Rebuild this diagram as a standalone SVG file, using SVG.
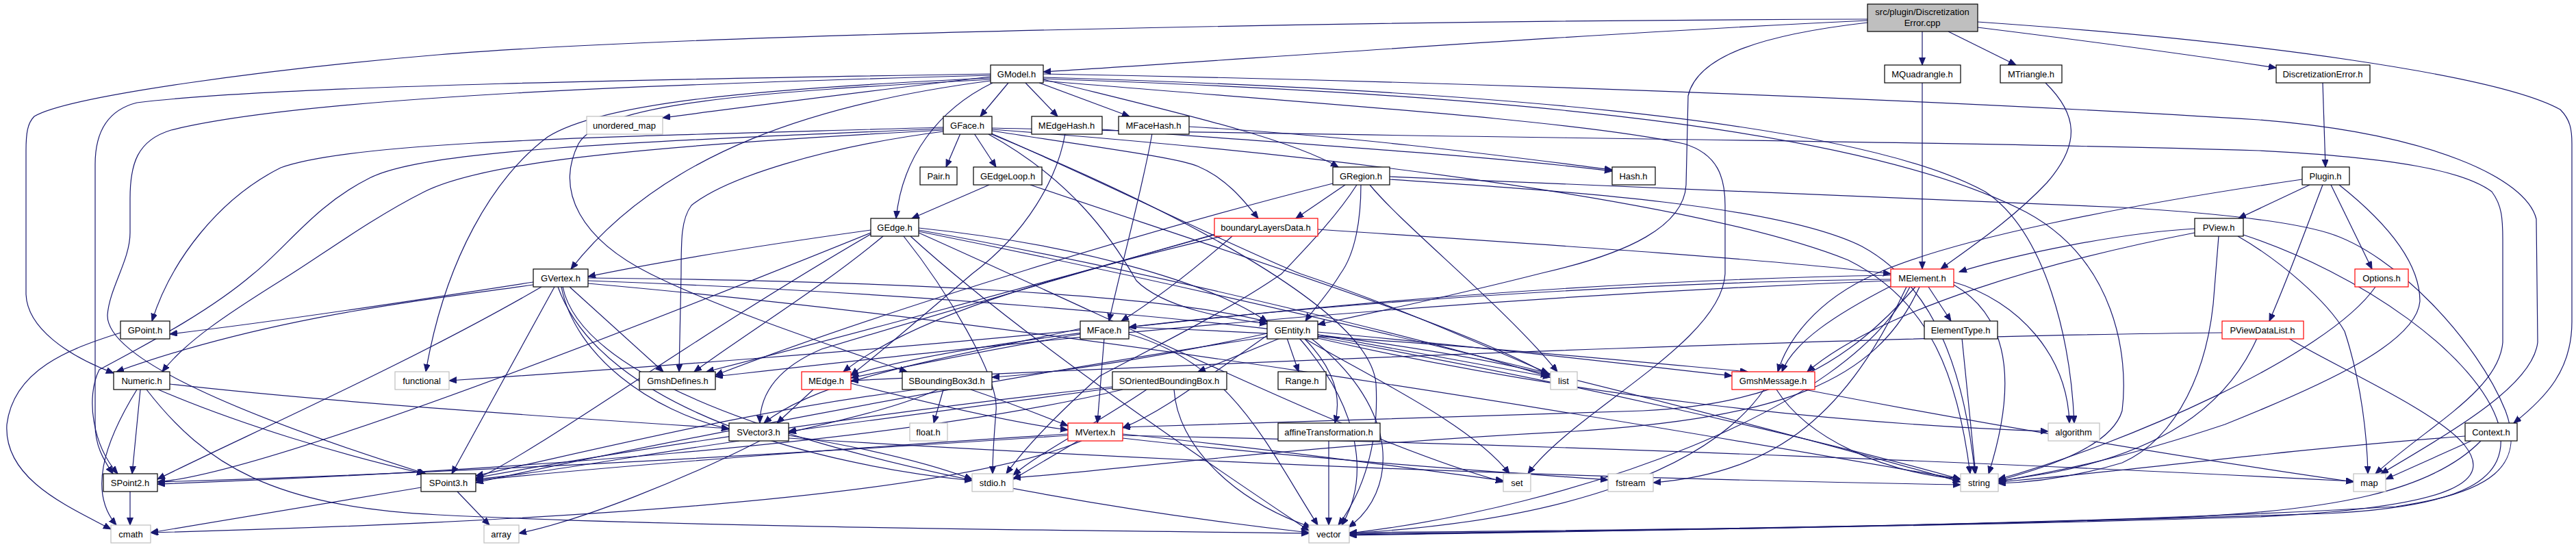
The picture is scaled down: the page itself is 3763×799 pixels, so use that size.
<svg xmlns="http://www.w3.org/2000/svg" width="3763" height="799" viewBox="0 0 3763 799">
<style>
.e{fill:none;stroke:#191970;stroke-width:1.2;marker-end:url(#a)}
rect{fill:#fff;stroke:#000;stroke-width:1.2}
.r rect{stroke:#ff0000}
.g rect{stroke:#bfbfbf}
text{font-family:"Liberation Sans",Arial,Helvetica,sans-serif;font-size:13px;text-anchor:middle;fill:#000}
</style>
<defs>
<marker id="a" markerWidth="12" markerHeight="10" refX="11" refY="4.5" orient="auto" markerUnits="userSpaceOnUse"><path d="M0,0 L11,4.5 L0,9 z" fill="#191970" stroke="#191970" stroke-width="1"/></marker>
</defs>
<rect x="0" y="0" width="3763" height="799" style="fill:#fff;stroke:none"/>
<g id="edges">
<path class="e" d="M2728,30 C2300,50 1800,88 1524,105"/>
<path class="e" d="M2808,46 L2808,95"/>
<path class="e" d="M2846,46 L2945,95"/>
<path class="e" d="M2889,40 C3050,60 3200,80 3325,99"/>
<path class="e" d="M2728,28 C2000,30 1000,50 640,80 C400,100 100,140 50,170 C40,180 38,195 38,220 L38,430 C40,480 100,520 166,545"/>
<path class="e" d="M2889,32 C3300,60 3650,110 3740,160 C3755,175 3757,190 3757,210 L3757,470 C3757,540 3720,580 3672,618"/>
<path class="e" d="M2728,33 C2580,50 2480,80 2466,140 L2463,270 C2460,330 2380,370 2252,399 C2150,425 2000,458 1925,474"/>
<path class="e" d="M1473,121 L1432,170"/>
<path class="e" d="M1498,121 L1545,170"/>
<path class="e" d="M1518,121 L1650,170"/>
<path class="e" d="M1524,116 C1700,160 1880,200 1955,244"/>
<path class="e" d="M1450,121 C1370,160 1318,230 1309,319"/>
<path class="e" d="M1447,118 C1200,150 970,220 834,393"/>
<path class="e" d="M1447,112 C1250,135 1100,155 968,172"/>
<path class="e" d="M1447,108 C1000,115 400,125 200,150 C160,160 139,190 139,240 L139,620 C139,650 150,670 165,692"/>
<path class="e" d="M1447,110 C1000,122 450,140 250,190 C200,205 190,240 190,290 L190,340 C190,380 160,420 157,460 C155,520 330,600 622,692"/>
<path class="e" d="M1447,114 C1100,130 880,150 800,200 C720,260 650,380 622,543"/>
<path class="e" d="M1447,116 C1100,135 880,150 845,210 C810,280 850,350 950,400 C1050,450 1200,500 1325,543"/>
<path class="e" d="M1524,108 C2200,120 2900,150 3300,175 C3550,195 3690,260 3705,320 L3707,500 C3700,560 3600,620 3478,692"/>
<path class="e" d="M1524,113 C2100,130 2700,170 2900,280 C2990,340 3025,500 3030,618"/>
<path class="e" d="M1524,115 C2100,135 2700,175 2960,310 C3090,380 3110,520 3100,600 C3085,650 3000,680 2919,702"/>
<path class="e" d="M1524,118 C1900,150 2300,175 2460,210 C2510,225 2520,260 2520,300 L2520,400 C2515,500 2300,600 2232,692"/>
<path class="e" d="M1403,195 L1382,244"/>
<path class="e" d="M1423,195 L1455,244"/>
<path class="e" d="M1449,191 C1600,215 1720,230 1750,243 C1790,260 1815,290 1838,319"/>
<path class="e" d="M1444,196 C1560,260 1620,340 1660,410 C1700,450 1790,465 1851,473"/>
<path class="e" d="M1446,194 C1600,260 1800,360 1900,400 C2050,450 2200,520 2262,545"/>
<path class="e" d="M1378,186 C900,200 520,205 410,245 C320,290 250,380 222,469"/>
<path class="e" d="M1378,188 C900,208 620,220 540,260 C460,300 420,360 370,400 C300,460 200,510 145,540 C125,580 135,650 172,692"/>
<path class="e" d="M1378,190 C900,215 700,240 620,280 C540,320 460,380 410,410 C330,460 270,500 237,543"/>
<path class="e" d="M1378,192 C1200,215 1060,260 1010,300 C995,320 995,350 995,400 L992,543"/>
<path class="e" d="M1449,187 C2000,200 2800,205 3300,220 C3500,230 3600,250 3640,280 C3655,300 3656,320 3656,350 L3656,500 C3650,570 3550,620 3470,692"/>
<path class="e" d="M1449,189 C2000,230 2500,300 2700,380 C2820,440 2860,550 2878,692"/>
<path class="e" d="M1446,195 C1700,300 2000,450 2010,560 C2015,650 1990,720 1955,767"/>
<path class="e" d="M1445,270 L1332,319"/>
<path class="e" d="M1505,270 C1800,370 2150,480 2262,548"/>
<path class="e" d="M1965,270 L1893,319"/>
<path class="e" d="M1988,270 C1988,320 1980,370 1958,400 C1940,430 1920,450 1907,469"/>
<path class="e" d="M2001,270 C2050,330 2200,450 2275,543"/>
<path class="e" d="M1982,270 C1950,320 1900,370 1872,400 C1800,450 1700,500 1607,549 C1550,600 1500,650 1470,692"/>
<path class="e" d="M2030,262 C2300,280 2600,300 2720,360 C2830,420 2870,550 2885,692"/>
<path class="e" d="M2030,258 C2300,270 2700,285 3100,303 C3250,312 3350,325 3400,340 C3500,370 3620,500 3660,600 C3690,680 3640,720 3500,740 C3000,770 2300,775 1971,778"/>
<path class="e" d="M1947,268 C1700,330 1300,450 1045,548"/>
<path class="e" d="M1610,189 C1900,210 2200,230 2355,250"/>
<path class="e" d="M1556,195 C1545,260 1500,340 1420,400 C1350,460 1280,520 1243,548"/>
<path class="e" d="M1737,185 C2000,200 2250,235 2355,248"/>
<path class="e" d="M1683,195 C1670,270 1640,380 1620,469"/>
<path class="e" d="M1800,345 C1760,380 1700,430 1638,469"/>
<path class="e" d="M1785,345 C1600,390 1350,450 1232,543"/>
<path class="e" d="M1775,342 C1500,420 1300,480 1200,510 C1130,540 1110,580 1110,618"/>
<path class="e" d="M1925,335 C2300,360 2600,380 2762,400"/>
<path class="e" d="M1774,343 C1500,420 1200,500 1032,543"/>
<path class="e" d="M1272,336 C1100,360 950,385 859,404"/>
<path class="e" d="M1290,345 C1200,420 1100,480 1014,543"/>
<path class="e" d="M1320,345 C1380,420 1460,550 1455,600 C1452,640 1450,660 1450,692"/>
<path class="e" d="M1342,333 C1600,360 1780,420 1851,470"/>
<path class="e" d="M1272,340 C1000,450 400,690 230,704"/>
<path class="e" d="M1272,342 C1000,500 800,650 695,700"/>
<path class="e" d="M1342,336 C1700,400 2100,500 2262,550"/>
<path class="e" d="M1342,338 C1900,450 2500,600 2864,704"/>
<path class="e" d="M1330,345 C1500,500 1800,700 1912,775"/>
<path class="e" d="M1342,340 C1700,500 2000,650 2196,704"/>
<path class="e" d="M779,412 C600,440 400,470 248,488"/>
<path class="e" d="M779,416 C640,436 400,460 170,543"/>
<path class="e" d="M791,419 C600,530 350,640 230,700"/>
<path class="e" d="M810,419 L660,692"/>
<path class="e" d="M832,419 L969,543"/>
<path class="e" d="M820,419 C840,520 950,600 1065,627"/>
<path class="e" d="M859,406 C1300,410 1700,430 1851,470"/>
<path class="e" d="M822,419 C860,600 1400,720 1912,778"/>
<path class="e" d="M859,410 C1400,430 2000,480 2265,548"/>
<path class="e" d="M859,414 C1600,480 2400,620 2864,700"/>
<path class="e" d="M815,419 C880,600 1200,680 1420,702"/>
<path class="e" d="M1880,494 L1897,543"/>
<path class="e" d="M1905,494 C1950,540 1960,580 1950,618"/>
<path class="e" d="M1870,494 L1750,543"/>
<path class="e" d="M1851,487 C1700,520 1550,545 1449,551"/>
<path class="e" d="M1925,489 L2265,551"/>
<path class="e" d="M1905,494 C2000,550 2150,620 2205,692"/>
<path class="e" d="M1898,494 C1990,600 2000,700 1960,767"/>
<path class="e" d="M1915,494 C2050,600 2040,720 1970,770"/>
<path class="e" d="M1925,492 C2300,560 2650,640 2864,700"/>
<path class="e" d="M1925,494 C2300,580 2700,620 2992,630"/>
<path class="e" d="M1925,485 C2200,510 2400,535 2530,549"/>
<path class="e" d="M1851,490 C1750,560 1700,600 1640,625"/>
<path class="e" d="M1851,492 C1400,560 900,660 695,705"/>
<path class="e" d="M1613,494 L1603,618"/>
<path class="e" d="M1578,482 C1300,510 900,540 656,556"/>
<path class="e" d="M1578,480 C1400,520 1200,550 1116,618"/>
<path class="e" d="M1578,488 C1450,510 1350,530 1243,552"/>
<path class="e" d="M1649,488 C1800,530 1850,650 1925,767"/>
<path class="e" d="M1649,478 C2000,490 2300,520 2553,543"/>
<path class="e" d="M1188,569 L1135,618"/>
<path class="e" d="M1243,560 C1400,600 1500,620 1560,628"/>
<path class="e" d="M1575,644 L1480,700"/>
<path class="e" d="M1560,636 C1200,660 700,690 230,704"/>
<path class="e" d="M1560,634 C1300,650 900,680 695,702"/>
<path class="e" d="M1640,634 C1900,660 2100,690 2196,702"/>
<path class="e" d="M1640,636 C2300,650 3000,680 3438,703"/>
<path class="e" d="M1580,644 C1400,720 900,760 220,778"/>
<path class="e" d="M1640,640 C1900,670 2200,690 2349,701"/>
<path class="e" d="M1378,569 L1364,618"/>
<path class="e" d="M1338,569 C1100,600 900,650 695,695"/>
<path class="e" d="M1370,569 C1300,600 1200,620 1152,632"/>
<path class="e" d="M1418,569 C1480,590 1530,610 1560,622"/>
<path class="e" d="M1625,567 C1450,590 1300,610 1152,630"/>
<path class="e" d="M1675,569 C1600,620 1520,660 1480,694"/>
<path class="e" d="M1625,565 C1300,600 900,660 695,698"/>
<path class="e" d="M1715,569 C1720,650 1800,730 1915,770"/>
<path class="e" d="M1640,569 C1300,650 700,690 230,707"/>
<path class="e" d="M1080,644 C900,670 800,690 695,700"/>
<path class="e" d="M1110,644 C1000,700 850,760 758,779"/>
<path class="e" d="M1152,636 C1300,660 1380,685 1420,700"/>
<path class="e" d="M1152,640 C1800,680 2400,700 2864,708"/>
<path class="e" d="M615,712 L220,778"/>
<path class="e" d="M668,718 L715,767"/>
<path class="e" d="M190,718 L190,767"/>
<path class="e" d="M176,486 C100,510 20,540 10,620 C5,700 100,740 162,773"/>
<path class="e" d="M205,569 L193,692"/>
<path class="e" d="M200,569 C150,650 130,720 170,767"/>
<path class="e" d="M248,561 C500,590 900,615 1065,626"/>
<path class="e" d="M231,569 C350,620 500,665 620,692"/>
<path class="e" d="M214,569 C300,680 400,740 640,752 C1000,770 1600,775 1912,779"/>
<path class="e" d="M1941,644 L1941,767"/>
<path class="e" d="M2817,419 L2850,469"/>
<path class="e" d="M2762,418 C2680,460 2620,500 2603,543"/>
<path class="e" d="M2854,412 C2950,440 3020,520 3023,618"/>
<path class="e" d="M2854,416 C2930,460 2950,550 2905,692"/>
<path class="e" d="M2798,419 C2700,530 2600,590 2400,600 C2100,610 1800,620 1640,624"/>
<path class="e" d="M2804,419 C2740,560 2600,610 2300,630 C1900,650 1600,690 1480,698"/>
<path class="e" d="M2762,408 C2300,412 1500,470 1243,548"/>
<path class="e" d="M2762,402 C2300,410 1900,450 1649,478"/>
<path class="e" d="M2762,410 C2000,440 1400,510 1045,550"/>
<path class="e" d="M2790,419 C2700,600 2300,740 1971,779"/>
<path class="e" d="M2785,419 C2700,600 2600,690 2415,705"/>
<path class="e" d="M2866,494 L2886,692"/>
<path class="e" d="M2595,569 C2640,640 2750,690 2864,700"/>
<path class="e" d="M2636,569 C2900,620 3200,670 3438,704"/>
<path class="e" d="M2577,569 C2500,680 2300,760 1971,779"/>
<path class="e" d="M3374,270 L3270,319"/>
<path class="e" d="M3405,270 L3465,393"/>
<path class="e" d="M3393,270 C3370,330 3345,400 3315,469"/>
<path class="e" d="M3363,262 C3100,300 2850,350 2740,400 C2650,440 2610,500 2597,543"/>
<path class="e" d="M3417,270 C3480,320 3535,380 3535,440 C3530,500 3400,560 3250,620 C3100,670 3000,690 2919,703"/>
<path class="e" d="M3206,334 C3100,340 2950,370 2862,397"/>
<path class="e" d="M3241,345 L3235,420 C3228,540 3180,640 3100,676 C3020,700 2960,705 2919,706"/>
<path class="e" d="M3269,345 C3330,380 3400,440 3425,484 C3450,560 3458,640 3459,692"/>
<path class="e" d="M3277,343 C3450,400 3620,520 3650,620 C3670,700 3600,740 3400,750 C2800,770 2300,776 1971,780"/>
<path class="e" d="M3206,340 C3000,380 2750,450 2640,543"/>
<path class="e" d="M3470,419 C3400,520 3100,650 2919,700"/>
<path class="e" d="M3297,494 C3250,600 3150,660 3000,690 C2960,697 2935,700 2919,703"/>
<path class="e" d="M3343,494 C3400,530 3560,600 3600,650 C3640,700 3600,740 3300,755 C2800,770 2300,776 1971,781"/>
<path class="e" d="M3246,486 C2800,490 2000,520 1243,556"/>
<path class="e" d="M3610,644 L3485,700"/>
<path class="e" d="M3601,637 C3300,660 3100,690 2919,704"/>
<path class="e" d="M3624,644 C3550,720 3400,745 3200,755 C2800,770 2300,776 1971,782"/>
<path class="e" d="M3393,121 L3397,244"/>
<path class="e" d="M2808,121 L2808,393"/>
<path class="e" d="M2988,121 C3035,167 3040,210 2990,267 C2940,320 2880,360 2835,393"/>
</g>
<g id="n_src"><rect x="2728" y="6" width="161" height="40" style="fill:#bfbfbf"/><text x="2808" y="22">src/plugin/Discretization</text><text x="2808" y="38">Error.cpp</text></g>
<g id="n_GModel"><rect x="1447" y="95" width="77" height="26"/><text x="1485" y="113">GModel.h</text></g>
<g id="n_MQuadrangle"><rect x="2753" y="95" width="111" height="26"/><text x="2808" y="113">MQuadrangle.h</text></g>
<g id="n_MTriangle"><rect x="2922" y="95" width="90" height="26"/><text x="2967" y="113">MTriangle.h</text></g>
<g id="n_DiscretizationErrorH"><rect x="3325" y="95" width="137" height="26"/><text x="3393" y="113">DiscretizationError.h</text></g>
<g id="n_unordered_map" class="g"><rect x="857" y="170" width="111" height="26"/><text x="912" y="188">unordered_map</text></g>
<g id="n_GFace"><rect x="1378" y="170" width="71" height="26"/><text x="1413" y="188">GFace.h</text></g>
<g id="n_MEdgeHash"><rect x="1507" y="170" width="103" height="26"/><text x="1558" y="188">MEdgeHash.h</text></g>
<g id="n_MFaceHash"><rect x="1634" y="170" width="103" height="26"/><text x="1685" y="188">MFaceHash.h</text></g>
<g id="n_Pair"><rect x="1344" y="244" width="54" height="26"/><text x="1371" y="262">Pair.h</text></g>
<g id="n_GEdgeLoop"><rect x="1422" y="244" width="100" height="26"/><text x="1472" y="262">GEdgeLoop.h</text></g>
<g id="n_GRegion"><rect x="1947" y="244" width="83" height="26"/><text x="1988" y="262">GRegion.h</text></g>
<g id="n_Hash"><rect x="2355" y="244" width="63" height="26"/><text x="2386" y="262">Hash.h</text></g>
<g id="n_Plugin"><rect x="3363" y="244" width="69" height="26"/><text x="3397" y="262">Plugin.h</text></g>
<g id="n_GEdge"><rect x="1272" y="319" width="70" height="26"/><text x="1307" y="337">GEdge.h</text></g>
<g id="n_boundaryLayersData" class="r"><rect x="1774" y="319" width="151" height="26"/><text x="1849" y="337">boundaryLayersData.h</text></g>
<g id="n_PView"><rect x="3206" y="319" width="71" height="26"/><text x="3241" y="337">PView.h</text></g>
<g id="n_GVertex"><rect x="779" y="393" width="80" height="26"/><text x="819" y="411">GVertex.h</text></g>
<g id="n_MElement" class="r"><rect x="2762" y="393" width="92" height="26"/><text x="2808" y="411">MElement.h</text></g>
<g id="n_Options" class="r"><rect x="3440" y="393" width="78" height="26"/><text x="3479" y="411">Options.h</text></g>
<g id="n_GPoint"><rect x="176" y="469" width="72" height="26"/><text x="212" y="487">GPoint.h</text></g>
<g id="n_MFace"><rect x="1578" y="469" width="71" height="26"/><text x="1613" y="487">MFace.h</text></g>
<g id="n_GEntity"><rect x="1851" y="469" width="74" height="26"/><text x="1888" y="487">GEntity.h</text></g>
<g id="n_ElementType"><rect x="2811" y="469" width="107" height="26"/><text x="2864" y="487">ElementType.h</text></g>
<g id="n_PViewDataList" class="r"><rect x="3246" y="469" width="119" height="26"/><text x="3305" y="487">PViewDataList.h</text></g>
<g id="n_Numeric"><rect x="166" y="543" width="82" height="26"/><text x="207" y="561">Numeric.h</text></g>
<g id="n_functional" class="g"><rect x="577" y="543" width="79" height="26"/><text x="616" y="561">functional</text></g>
<g id="n_GmshDefines"><rect x="934" y="543" width="111" height="26"/><text x="990" y="561">GmshDefines.h</text></g>
<g id="n_MEdge" class="r"><rect x="1171" y="543" width="72" height="26"/><text x="1207" y="561">MEdge.h</text></g>
<g id="n_SBoundingBox3d"><rect x="1318" y="543" width="131" height="26"/><text x="1383" y="561">SBoundingBox3d.h</text></g>
<g id="n_SOrientedBoundingBox"><rect x="1625" y="543" width="167" height="26"/><text x="1708" y="561">SOrientedBoundingBox.h</text></g>
<g id="n_Range"><rect x="1867" y="543" width="70" height="26"/><text x="1902" y="561">Range.h</text></g>
<g id="n_list" class="g"><rect x="2265" y="543" width="39" height="26"/><text x="2284" y="561">list</text></g>
<g id="n_GmshMessage" class="r"><rect x="2530" y="543" width="121" height="26"/><text x="2590" y="561">GmshMessage.h</text></g>
<g id="n_SVector3"><rect x="1065" y="618" width="87" height="26"/><text x="1108" y="636">SVector3.h</text></g>
<g id="n_float" class="g"><rect x="1329" y="618" width="55" height="26"/><text x="1356" y="636">float.h</text></g>
<g id="n_MVertex" class="r"><rect x="1560" y="618" width="80" height="26"/><text x="1600" y="636">MVertex.h</text></g>
<g id="n_affineTransformation"><rect x="1867" y="618" width="149" height="26"/><text x="1941" y="636">affineTransformation.h</text></g>
<g id="n_algorithm" class="g"><rect x="2992" y="618" width="75" height="26"/><text x="3029" y="636">algorithm</text></g>
<g id="n_Context"><rect x="3601" y="618" width="76" height="26"/><text x="3639" y="636">Context.h</text></g>
<g id="n_SPoint2"><rect x="151" y="692" width="79" height="26"/><text x="190" y="710">SPoint2.h</text></g>
<g id="n_SPoint3"><rect x="615" y="692" width="80" height="26"/><text x="655" y="710">SPoint3.h</text></g>
<g id="n_stdio" class="g"><rect x="1420" y="692" width="60" height="26"/><text x="1450" y="710">stdio.h</text></g>
<g id="n_set" class="g"><rect x="2196" y="692" width="40" height="26"/><text x="2216" y="710">set</text></g>
<g id="n_fstream" class="g"><rect x="2349" y="692" width="66" height="26"/><text x="2382" y="710">fstream</text></g>
<g id="n_string" class="g"><rect x="2864" y="692" width="55" height="26"/><text x="2891" y="710">string</text></g>
<g id="n_map" class="g"><rect x="3438" y="692" width="47" height="26"/><text x="3461" y="710">map</text></g>
<g id="n_cmath" class="g"><rect x="162" y="767" width="58" height="26"/><text x="191" y="785">cmath</text></g>
<g id="n_array" class="g"><rect x="707" y="767" width="51" height="26"/><text x="732" y="785">array</text></g>
<g id="n_vector" class="g"><rect x="1912" y="767" width="59" height="26"/><text x="1941" y="785">vector</text></g>
</svg>
